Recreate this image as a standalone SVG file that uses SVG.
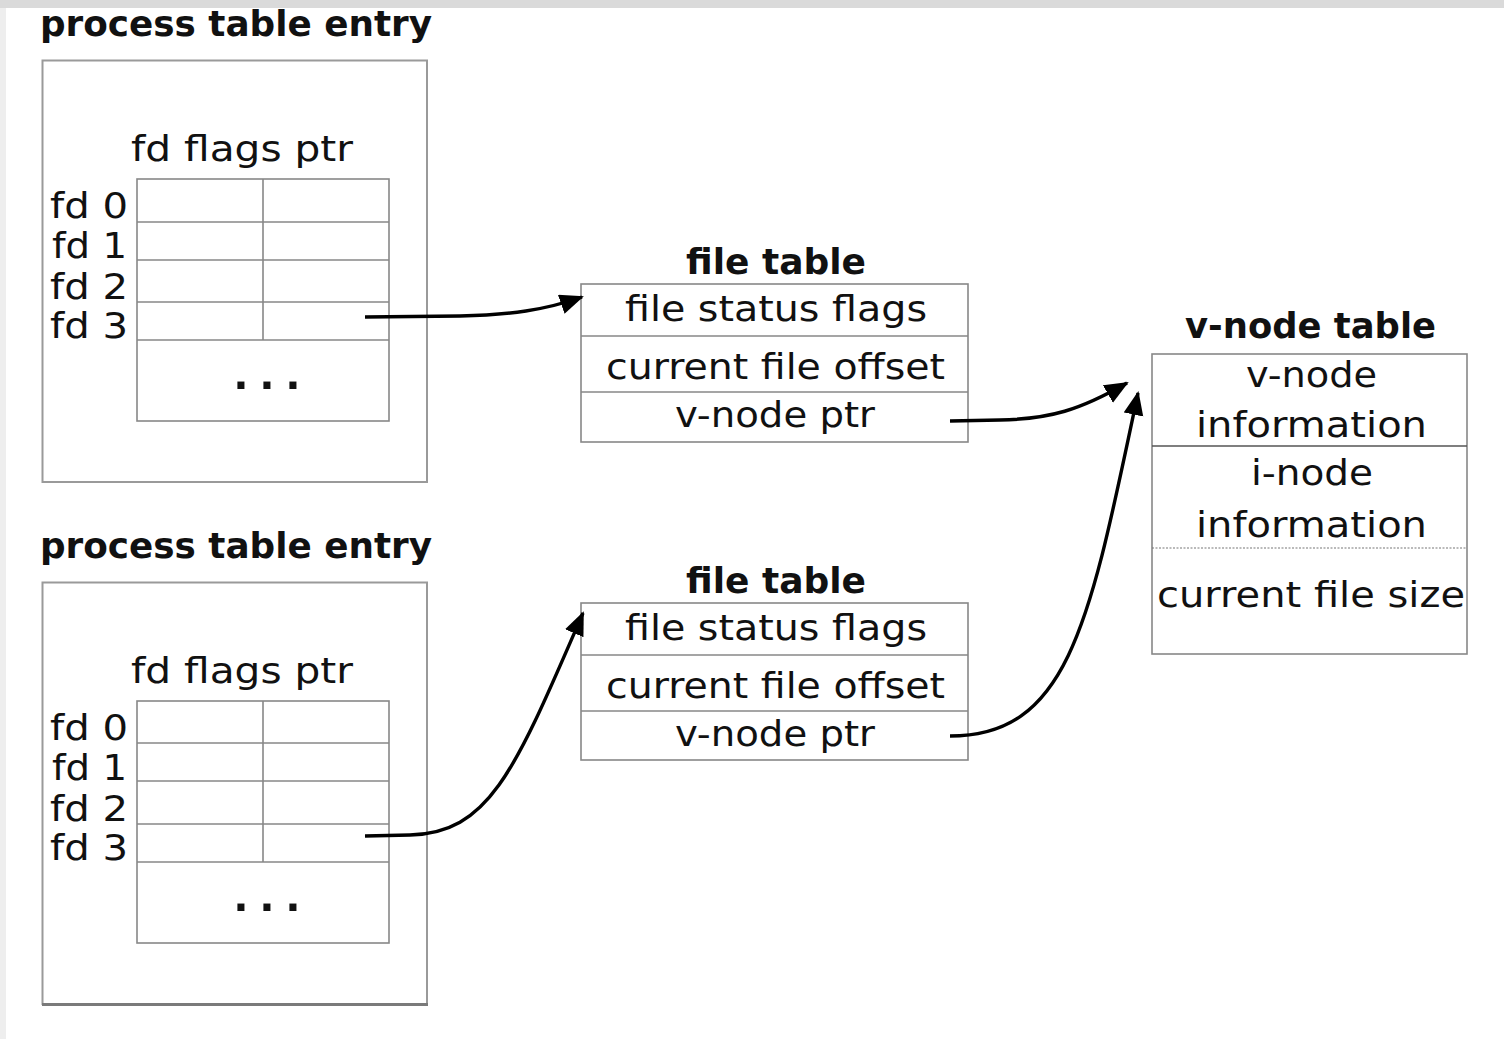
<svg xmlns="http://www.w3.org/2000/svg" width="1504" height="1039" viewBox="0 0 1504 1039">
<defs>
<style>
.t{font-family:"DejaVu Sans","Liberation Sans",sans-serif;font-size:35px;fill:#111}
.h{font-family:"DejaVu Sans","Liberation Sans",sans-serif;font-size:36px;font-weight:bold;fill:#111}
.d{font-family:"Liberation Sans",sans-serif;font-size:50px;font-weight:bold;fill:#111}
.box{fill:#fff;stroke:#9a9a9a;stroke-width:2}
.cell{fill:none;stroke:#888;stroke-width:1.6}
.conn{fill:none;stroke:#000;stroke-width:3.4}
</style>
<marker id="ah" markerUnits="userSpaceOnUse" markerWidth="26" markerHeight="22" refX="22" refY="10" orient="auto">
<path d="M0,0 L24,10 L0,20 Z" fill="#000"/>
</marker>
</defs>
<rect width="1504" height="1039" fill="#fff"/>
<rect x="0" y="0" width="1504" height="8" fill="#dadada"/>
<rect x="0" y="8" width="6" height="1031" fill="#eeeeee"/>

<g id="proc1">
<text class="h" x="40" y="36" textLength="392" lengthAdjust="spacingAndGlyphs">process table entry</text>
<rect class="box" x="42.5" y="60.5" width="384.5" height="421.5"/>
<text class="t" x="131" y="161" textLength="222" lengthAdjust="spacingAndGlyphs">fd flags ptr</text>
<rect class="cell" x="137" y="179" width="252" height="242"/>
<path class="cell" d="M137,222H389M137,260H389M137,302H389M137,340H389M263,179V340"/>
<text class="t" x="50" y="218" textLength="78" lengthAdjust="spacingAndGlyphs">fd 0</text>
<text class="t" x="52" y="258" textLength="75" lengthAdjust="spacingAndGlyphs">fd 1</text>
<text class="t" x="50" y="299" textLength="78" lengthAdjust="spacingAndGlyphs">fd 2</text>
<text class="t" x="50" y="338" textLength="78" lengthAdjust="spacingAndGlyphs">fd 3</text>
<text class="d" x="234" y="389" textLength="66" lengthAdjust="spacing">...</text>
</g>

<g id="proc2">
<text class="h" x="40" y="558" textLength="392" lengthAdjust="spacingAndGlyphs">process table entry</text>
<rect class="box" x="42.5" y="582.5" width="384.5" height="421.5"/>
<line x1="42" y1="1004.5" x2="428" y2="1004.5" stroke="#7a7a7a" stroke-width="3"/>
<text class="t" x="131" y="683" textLength="222" lengthAdjust="spacingAndGlyphs">fd flags ptr</text>
<rect class="cell" x="137" y="701" width="252" height="242"/>
<path class="cell" d="M137,743H389M137,781H389M137,824H389M137,862H389M263,701V862"/>
<text class="t" x="50" y="740" textLength="78" lengthAdjust="spacingAndGlyphs">fd 0</text>
<text class="t" x="52" y="780" textLength="75" lengthAdjust="spacingAndGlyphs">fd 1</text>
<text class="t" x="50" y="821" textLength="78" lengthAdjust="spacingAndGlyphs">fd 2</text>
<text class="t" x="50" y="860" textLength="78" lengthAdjust="spacingAndGlyphs">fd 3</text>
<text class="d" x="234" y="911" textLength="66" lengthAdjust="spacing">...</text>
</g>

<g id="file1">
<text class="h" x="686" y="274" textLength="180" lengthAdjust="spacingAndGlyphs">file table</text>
<rect class="cell" x="581" y="284" width="387" height="158"/>
<path class="cell" d="M581,336H968M581,392H968"/>
<text class="t" x="625" y="321" textLength="302" lengthAdjust="spacingAndGlyphs">file status flags</text>
<text class="t" x="606" y="379" textLength="339" lengthAdjust="spacingAndGlyphs">current file offset</text>
<text class="t" x="675" y="427" textLength="200" lengthAdjust="spacingAndGlyphs">v-node ptr</text>
</g>

<g id="file2">
<text class="h" x="686" y="593" textLength="180" lengthAdjust="spacingAndGlyphs">file table</text>
<rect class="cell" x="581" y="603" width="387" height="157"/>
<path class="cell" d="M581,655H968M581,711H968"/>
<text class="t" x="625" y="640" textLength="302" lengthAdjust="spacingAndGlyphs">file status flags</text>
<text class="t" x="606" y="698" textLength="339" lengthAdjust="spacingAndGlyphs">current file offset</text>
<text class="t" x="675" y="746" textLength="200" lengthAdjust="spacingAndGlyphs">v-node ptr</text>
</g>

<g id="vnode">
<text class="h" x="1185" y="338" textLength="251" lengthAdjust="spacingAndGlyphs">v-node table</text>
<rect class="cell" x="1152" y="354" width="315" height="300"/>
<line x1="1152" y1="446" x2="1467" y2="446" stroke="#555" stroke-width="1.6"/>
<line x1="1152" y1="548" x2="1467" y2="548" stroke="#777" stroke-width="1.2" stroke-dasharray="2,1.5"/>
<text class="t" x="1246" y="387" textLength="131" lengthAdjust="spacingAndGlyphs">v-node</text>
<text class="t" x="1196" y="437" textLength="231" lengthAdjust="spacingAndGlyphs">information</text>
<text class="t" x="1251" y="485" textLength="122" lengthAdjust="spacingAndGlyphs">i-node</text>
<text class="t" x="1196" y="537" textLength="231" lengthAdjust="spacingAndGlyphs">information</text>
<text class="t" x="1157" y="607" textLength="308" lengthAdjust="spacingAndGlyphs">current file size</text>
</g>

<g id="connectors">
<path class="conn" marker-end="url(#ah)" d="M365,317 L460,316 C510,315 545,310 582,297"/>
<path class="conn" marker-end="url(#ah)" d="M365,836 L410,835 C490,833 515,770 583,613"/>
<path class="conn" marker-end="url(#ah)" d="M950,421 L1000,420 C1050,419 1080,410 1127,383"/>
<path class="conn" marker-end="url(#ah)" d="M950,736 C1070,736 1090,620 1138,393"/>
</g>
</svg>
